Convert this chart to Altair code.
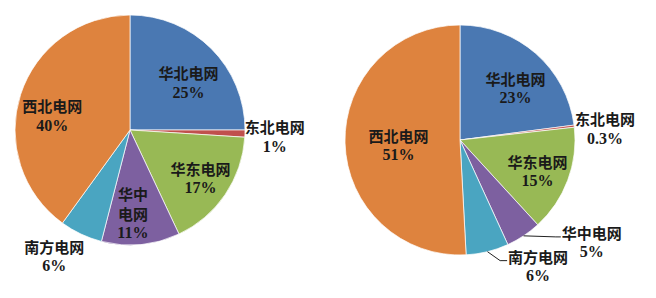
import altair as alt
import pandas as pd

# ---- data ----
regions = ["华北电网", "东北电网", "华东电网", "华中电网", "南方电网", "西北电网"]
left_values = [25, 1, 17, 11, 6, 40]
left_labels = ["25%", "1%", "17%", "11%", "6%", "40%"]
right_values = [23, 0.3, 15, 5, 6, 51]
right_labels = ["23%", "0.3%", "15%", "5%", "6%", "51%"]

# ---- style / layout ----
colors = ["#4A78B2", "#C0504D", "#98B955", "#7D60A0", "#4AA5C1", "#DE833E"]
R = 115
LH = 18.5   # name line -> percent line
LH2 = 20    # name line -> second name line
left_name1 = ["华北电网", "东北电网", "华东电网", "华中", "南方电网", "西北电网"]
left_name2 = ["", "", "", "电网", "", ""]
left_off = [6.5, 1.2, 0.6, 3.4, 5.6, -8.2]
left_rad = [74.7, 145, 86, 84, 148, 79]
left_lead = [0, 0, 0, 0, 0, 0]
right_name1 = regions
right_name2 = ["", "", "", "", "", ""]
right_off = [6.1, 2.8, 1.9, -18.4, -17.8, -4.1]
right_rad = [75.4, 145.4, 83.8, 167.4, 149, 61.8]
right_lead = [0, 0, 0, 5, 7, 0]

CJK = "Noto Sans CJK SC"
SERIF = "Liberation Serif"
TXT = "#1a1a1a"


def pie(cx, cy, values, labels, n1, n2, off, rad, lead):
    df = pd.DataFrame(dict(region=regions, value=values, pct=labels, n1=n1, n2=n2,
                           off=off, lr=rad, lead=lead, k=list(range(len(regions)))))
    base = alt.Chart(df)
    arcs = base.mark_arc(outerRadius=R, stroke="white", strokeWidth=0.7).encode(
        theta=alt.Theta("value:Q", stack=True),
        color=alt.Color("region:N", scale=alt.Scale(domain=regions, range=colors), legend=None),
        order=alt.Order("k:Q", sort="ascending"),
        x=alt.value(cx), y=alt.value(cy),
    )
    geo = (base
           .transform_window(cum="sum(value)", sort=[alt.SortField("k", order="ascending")], frame=[None, 0])
           .transform_joinaggregate(total="sum(value)")
           .transform_calculate(mid="(datum.cum - datum.value/2)/datum.total*2*PI")
           .transform_calculate(ang="datum.mid + datum.off*PI/180")
           .transform_calculate(span=f"datum.n2 != '' ? {LH2 + LH} : {LH}")
           .transform_calculate(bx=f"{cx} + datum.lr*sin(datum.ang)")
           .transform_calculate(by=f"{cy} - datum.lr*cos(datum.ang)")
           .transform_calculate(y1="datum.by - datum.span/2")
           .transform_calculate(y2=f"datum.y1 + {LH2}")
           .transform_calculate(yp="datum.y1 + datum.span")
           .transform_calculate(ex=f"{cx} + {R}*sin(datum.mid)")
           .transform_calculate(ey=f"{cy} - {R}*cos(datum.mid)")
           .transform_calculate(lx2="datum.bx - 31")
           .transform_calculate(ly2="datum.y1 + 3")
           .transform_calculate(lx1="datum.lx2 - datum.lead"))
    tx = dict(align="center", baseline="middle", color=TXT, fontWeight="bold")
    name1 = geo.mark_text(font=CJK, fontSize=15, **tx).encode(
        x=alt.X("bx:Q", scale=None, axis=None), y=alt.Y("y1:Q", scale=None, axis=None), text="n1:N")
    name2 = geo.transform_filter("datum.n2 != ''").mark_text(font=CJK, fontSize=15, **tx).encode(
        x=alt.X("bx:Q", scale=None, axis=None), y=alt.Y("y2:Q", scale=None, axis=None), text="n2:N")
    pct = geo.mark_text(font=SERIF, fontSize=16, **tx).encode(
        x=alt.X("bx:Q", scale=None, axis=None), y=alt.Y("yp:Q", scale=None, axis=None), text="pct:N")
    layers = [arcs, name1, name2, pct]
    if any(v > 0 for v in lead):
        lg = geo.transform_filter("datum.lead > 0")
        r1 = lg.mark_rule(color="#222222", strokeWidth=1).encode(
            x=alt.X("ex:Q", scale=None, axis=None), y=alt.Y("ey:Q", scale=None, axis=None),
            x2="lx1:Q", y2="ly2:Q")
        r2 = lg.mark_rule(color="#222222", strokeWidth=1).encode(
            x=alt.X("lx1:Q", scale=None, axis=None), y=alt.Y("ly2:Q", scale=None, axis=None),
            x2="lx2:Q", y2="ly2:Q")
        layers += [r1, r2]
    return alt.layer(*layers)


left = pie(130, 130, left_values, left_labels, left_name1, left_name2, left_off, left_rad, left_lead)
right = pie(460, 140, right_values, right_labels, right_name1, right_name2, right_off, right_rad, right_lead)

chart = (alt.layer(left, right)
         .resolve_scale(theta="independent")
         .properties(width=656, height=298, autosize="none", padding=0, background="white")
         .configure_view(stroke=None))

chart.save("out.html", embed_options={"renderer": "svg", "actions": False})
